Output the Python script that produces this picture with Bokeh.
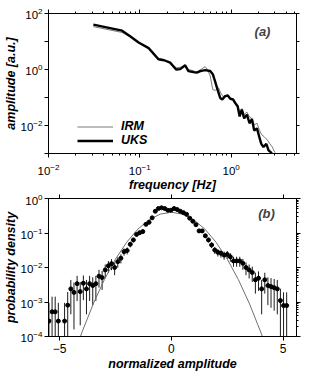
from bokeh.plotting import figure
from bokeh.models import (LogAxis, LinearAxis, FixedTicker, Legend, LegendItem,
                          Label, Range1d, CustomJSTickFormatter)
from bokeh.layouts import column
from bokeh.embed import file_html
from bokeh.resources import INLINE

FONT = "Liberation Sans"

# ---------------- panel (a): amplitude spectra ----------------
uks_freq = [0.031, 0.064, 0.079, 0.097, 0.125, 0.16, 0.185, 0.215, 0.25, 0.277,
            0.314, 0.341, 0.387, 0.42, 0.46, 0.52, 0.59, 0.63, 0.67, 0.71,
            0.76, 0.80, 0.86, 0.92, 0.98, 1.05, 1.11, 1.18, 1.24, 1.31,
            1.39, 1.49, 1.59, 1.69, 1.79, 1.92, 2.03, 2.14, 2.26, 2.43,
            2.57, 2.73, 2.85]
uks_amp = [40, 24.4, 15.1, 9.2, 5.8, 2.33, 2.14, 1.76, 1.0, 1.03,
           1.41, 0.88, 0.81, 0.77, 0.88, 0.95, 0.88, 0.68, 0.36, 0.19,
           0.096, 0.085, 0.112, 0.118, 0.089, 0.085, 0.063, 0.048, 0.021, 0.037,
           0.018, 0.0245, 0.012, 0.017, 0.0066, 0.0079, 0.004, 0.0022, 0.0017, 0.0022,
           0.0013, 0.0011, 0.0009]

irm_freq = [0.031, 0.064, 0.079, 0.097, 0.125, 0.16, 0.185, 0.215, 0.25, 0.277,
            0.314, 0.341, 0.387, 0.42, 0.48, 0.52, 0.55, 0.59, 0.63, 0.67,
            0.73, 0.77, 0.83, 0.92, 0.98, 1.05, 1.11, 1.18, 1.24, 1.31,
            1.39, 1.49, 1.59, 1.69, 1.80, 1.92, 2.03, 2.16, 2.30, 2.50,
            2.66, 2.83, 3.0, 3.2]
irm_amp = [34, 21, 14.5, 9.0, 6.0, 2.5, 2.2, 1.7, 1.15, 1.2,
           1.35, 1.0, 0.9, 0.8, 1.07, 1.26, 1.0, 0.59, 0.19, 0.18,
           0.22, 0.145, 0.10, 0.12, 0.10, 0.09, 0.07, 0.055, 0.03, 0.04,
           0.025, 0.03, 0.02, 0.018, 0.0105, 0.012, 0.0072, 0.0047, 0.004, 0.003,
           0.0022, 0.0017, 0.0011, 0.0009]

a_xticks = [0.01, 0.1, 1.0]
a_yticks_labeled = [1e-2, 1.0, 1e2]
a_yticks_unlabeled = [1e-3, 1e-1, 1e1]

# ---------------- panel (b): probability density ----------------
bin_x = [-5.48, -5.34, -5.20, -5.06, -4.78, -4.64, -4.50, -4.36, -4.22, -4.08,
         -3.94, -3.80, -3.66, -3.52, -3.38, -3.24, -3.10, -2.96, -2.82, -2.68,
         -2.54, -2.40, -2.26, -2.12, -1.98, -1.84, -1.70, -1.56, -1.42, -1.28,
         -1.14, -1.00, -0.86, -0.72, -0.58, -0.44, -0.30, -0.16, -0.02, 0.12,
         0.26, 0.40, 0.54, 0.68, 0.82, 0.96, 1.10, 1.24, 1.38, 1.52,
         1.66, 1.80, 1.94, 2.08, 2.22, 2.36, 2.50, 2.64, 2.78, 2.92,
         3.06, 3.20, 3.34, 3.48, 3.62, 3.76, 3.90, 4.04, 4.18, 4.32,
         4.46, 4.60, 4.74, 4.88, 5.02, 5.16]
density = [2.8e-4, 5.2e-4, 5.2e-4, 2.8e-4, 2.8e-4, 8.1e-4, 2.4e-3, 1.9e-3, 3.4e-3, 2.0e-3,
           3.5e-3, 2.4e-3, 3.4e-3, 3.0e-3, 3.4e-3, 5.6e-3, 5.1e-3, 8.5e-3, 0.0112, 0.0129,
           0.0100, 0.0148, 0.0186, 0.0288, 0.031, 0.047, 0.063, 0.091, 0.102, 0.110,
           0.178, 0.204, 0.275, 0.427, 0.513, 0.537, 0.513, 0.457, 0.457, 0.513,
           0.479, 0.427, 0.389, 0.347, 0.269, 0.219, 0.174, 0.115, 0.115, 0.083,
           0.063, 0.045, 0.032, 0.0275, 0.0257, 0.0229, 0.024, 0.0204, 0.0155, 0.0155,
           0.0155, 0.0132, 0.0100, 0.0085, 0.0072, 0.0044, 0.0049, 0.0024, 0.0044, 0.0030,
           0.0028, 0.0026, 0.0024, 0.0011, 0.00079, 0.00079]
density_err = [6.7e-4, 9.1e-4, 9.1e-4, 6.7e-4, 6.7e-4, 1.14e-3, 1.96e-3, 1.74e-3, 2.33e-3, 1.79e-3,
               2.37e-3, 1.96e-3, 2.33e-3, 2.19e-3, 2.33e-3, 2.99e-3, 2.86e-3, 3.69e-3, 4.23e-3, 4.54e-3,
               4.0e-3, 4.87e-3, 5.46e-3, 6.79e-3, 7.04e-3, 8.67e-3, 0.0100, 0.0121, 0.0128, 0.0133,
               0.0169, 0.0181, 0.0210, 0.0261, 0.0286, 0.0293, 0.0286, 0.0270, 0.0270, 0.0286,
               0.0277, 0.0261, 0.0249, 0.0236, 0.0207, 0.0187, 0.0167, 0.0136, 0.0136, 0.0115,
               0.0100, 8.5e-3, 7.2e-3, 6.6e-3, 6.4e-3, 6.1e-3, 6.2e-3, 5.7e-3, 5.0e-3, 5.0e-3,
               5.0e-3, 4.6e-3, 4.0e-3, 3.7e-3, 3.4e-3, 2.65e-3, 2.8e-3, 1.96e-3, 2.65e-3, 2.19e-3,
               2.12e-3, 2.04e-3, 1.96e-3, 1.33e-3, 1.12e-3, 1.12e-3]

gauss_x = [-4.2, -4.0, -3.5, -3.0, -2.5, -2.0, -1.5, -1.0, -0.5, 0.0,
           0.5, 1.0, 1.5, 2.0, 2.5, 3.0, 3.5, 4.0, 4.2]
gauss_y = [5.9e-5, 1.34e-4, 8.73e-4, 4.43e-3, 0.0175, 0.054, 0.1295, 0.242, 0.352, 0.399,
           0.352, 0.242, 0.1295, 0.054, 0.0175, 4.43e-3, 8.73e-4, 1.34e-4, 5.9e-5]

b_xticks = [-5, 0, 5]
b_yticks = [1e-4, 1e-3, 1e-2, 1e-1, 1.0]


def log_minors(decades):
    out = []
    for d in decades:
        for m in range(2, 10):
            out.append(d * m)
    return out


def style_axis(ax, label_size="11.5px"):
    ax.axis_line_color = "black"
    ax.axis_line_width = 1
    ax.major_tick_line_color = "black"
    ax.minor_tick_line_color = "black"
    ax.major_tick_in = 0
    ax.major_tick_out = 4
    ax.minor_tick_in = 0
    ax.minor_tick_out = 2
    ax.major_label_text_font = FONT
    ax.major_label_text_font_size = label_size
    ax.major_label_text_color = "black"
    ax.axis_label_text_font = FONT
    ax.axis_label_text_font_style = "bold italic"
    ax.axis_label_text_font_size = "12.5px"
    ax.axis_label_text_color = "black"


def blank_axis(ax):
    style_axis(ax)
    ax.formatter = CustomJSTickFormatter(code="return ''")
    ax.major_label_text_font_size = "1px"
    ax.major_label_standoff = 0


# ---------------- figure (a) ----------------
p1 = figure(frame_width=248, frame_height=140, x_axis_type="log", y_axis_type="log",
            x_range=Range1d(0.01, 5.2), y_range=Range1d(1e-3, 1e2),
            output_backend="svg", toolbar_location=None,
            min_border_left=40, min_border_right=22, min_border_top=13, min_border_bottom=36)
p1.grid.visible = False
p1.outline_line_color = "black"
p1.background_fill_color = "white"

r_irm = p1.line(irm_freq, irm_amp, line_color="#7a7a7a", line_width=1)
r_uks = p1.line(uks_freq, uks_amp, line_color="black", line_width=2.4)

xa = p1.xaxis[0]
style_axis(xa)
xa.ticker = FixedTicker(ticks=a_xticks, minor_ticks=log_minors([0.01, 0.1, 1.0]))
xa.axis_label = "frequency [Hz]"
xa.major_label_standoff = 6
xa.axis_label_standoff = 0

ya = p1.yaxis[0]
style_axis(ya)
ya.ticker = FixedTicker(ticks=a_yticks_labeled, minor_ticks=a_yticks_unlabeled)
ya.minor_tick_out = 4
ya.axis_label = "amplitude [a.u.]"
ya.major_label_standoff = 2
ya.axis_label_standoff = 0

top1 = LogAxis(ticker=FixedTicker(ticks=a_xticks, minor_ticks=log_minors([0.01, 0.1, 1.0])))
blank_axis(top1)
p1.add_layout(top1, "above")
right1 = LogAxis(ticker=FixedTicker(ticks=a_yticks_labeled + a_yticks_unlabeled, minor_ticks=[]))
blank_axis(right1)
right1.major_tick_out = 3
p1.add_layout(right1, "right")

legend = Legend(items=[LegendItem(label="IRM", renderers=[r_irm]),
                       LegendItem(label="UKS", renderers=[r_uks])],
                location=(29, 6), glyph_width=36, glyph_height=13, label_height=13,
                spacing=0, padding=0, margin=0, label_standoff=8,
                border_line_alpha=0, background_fill_alpha=0,
                label_text_font=FONT, label_text_font_style="bold italic",
                label_text_font_size="12.5px", label_text_color="black")
p1.add_layout(legend)

p1.add_layout(Label(x=214, y=122, x_units="screen", y_units="screen", text="(a)",
                    text_font=FONT, text_font_style="bold italic", text_font_size="13px",
                    text_align="center", text_baseline="middle"))

# ---------------- figure (b) ----------------
p2 = figure(frame_width=248, frame_height=138, y_axis_type="log",
            x_range=Range1d(-5.5, 5.6), y_range=Range1d(1e-4, 1.0),
            output_backend="svg", toolbar_location=None,
            min_border_left=40, min_border_right=22, min_border_top=4, min_border_bottom=30)
p2.grid.visible = False
p2.outline_line_color = "black"

lower = [max(d - e, 1e-6) for d, e in zip(density, density_err)]
upper = [d + e for d, e in zip(density, density_err)]
p2.segment(x0=bin_x, y0=lower, x1=bin_x, y1=upper, line_color="black", line_width=0.9)
p2.line(gauss_x, gauss_y, line_color="#707070", line_width=1)
p2.scatter(bin_x, density, size=4, color="black")

xb = p2.xaxis[0]
style_axis(xb, "12px")
xb.ticker = FixedTicker(ticks=b_xticks, minor_ticks=[])
xb.axis_label = "normalized amplitude"
xb.major_label_standoff = 3
xb.axis_label_standoff = 1
xb.major_label_overrides = {-5: "\u22125"}

yb = p2.yaxis[0]
style_axis(yb)
yb.ticker = FixedTicker(ticks=b_yticks, minor_ticks=[])
yb.axis_label = "probability density"
yb.major_label_standoff = 2
yb.axis_label_standoff = 0

top2 = LinearAxis(ticker=FixedTicker(ticks=b_xticks, minor_ticks=[]))
blank_axis(top2)
p2.add_layout(top2, "above")
right2 = LogAxis(ticker=FixedTicker(ticks=b_yticks, minor_ticks=log_minors([1e-4, 1e-3, 1e-2, 1e-1])))
blank_axis(right2)
p2.add_layout(right2, "right")

p2.add_layout(Label(x=218, y=123, x_units="screen", y_units="screen", text="(b)",
                    text_font=FONT, text_font_style="bold italic", text_font_size="13px",
                    text_align="center", text_baseline="middle"))

layout = column(p1, p2, spacing=0)
open("out.html", "w").write(file_html(layout, INLINE))
